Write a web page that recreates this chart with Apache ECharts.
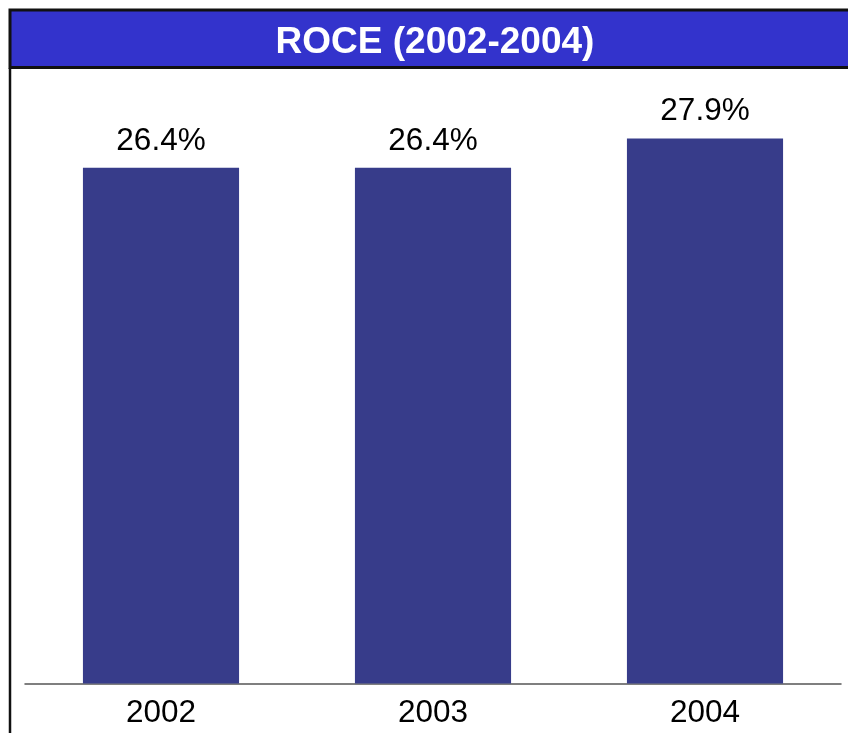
<!DOCTYPE html>
<html>
<head>
<meta charset="utf-8">
<style>
  html, body { margin: 0; padding: 0; background: #ffffff; }
  #chart { width: 848px; height: 733px; }
</style>
<script src="https://cdn.jsdelivr.net/npm/echarts@6/dist/echarts.min.js"></script>
</head>
<body>
<div id="chart"></div>
<script>
const categories = ['2002', '2003', '2004'];
const roceValues = [26.4, 26.4, 27.9];
const titleText = 'ROCE (2002-2004)';

const chart = echarts.init(document.getElementById('chart'), null, { renderer: 'canvas' });
chart.setOption({
  backgroundColor: '#ffffff',
  animation: false,
  title: {
    text: titleText,
    left: 430,
    top: 19,
    textAlign: 'center',
    textStyle: { color: '#ffffff', fontFamily: 'Liberation Sans', fontWeight: 'bold', fontSize: 37 },
    z: 10
  },
  graphic: [
    { type: 'rect', shape: { x: 10, y: 10, width: 850, height: 57.5 }, style: { fill: '#3333CC', stroke: '#111111', lineWidth: 3 }, z: 1 },
    { type: 'line', shape: { x1: 10, y1: 68, x2: 10, y2: 740 }, style: { stroke: '#111111', lineWidth: 2.5 }, z: 1 }
  ],
  grid: { left: 25, right: 7, top: 97.5, bottom: 49.5 },
  xAxis: {
    type: 'category',
    data: categories,
    axisLine: { show: true, lineStyle: { color: '#555555', width: 1.5 } },
    axisTick: { show: false },
    axisLabel: { color: '#000000', fontFamily: 'Liberation Sans', fontSize: 31.5, margin: 14 }
  },
  yAxis: {
    type: 'value',
    min: 0,
    max: 30,
    show: false,
    splitLine: { show: false }
  },
  series: [{
    type: 'bar',
    data: roceValues,
    barWidth: '57.4%',
    itemStyle: { color: '#373C8A' },
    label: {
      show: true,
      position: 'top',
      distance: 11,
      formatter: p => p.value.toFixed(1) + '%',
      color: '#000000',
      fontFamily: 'Liberation Sans',
      fontSize: 31.5
    }
  }]
});
</script>
</body>
</html>
